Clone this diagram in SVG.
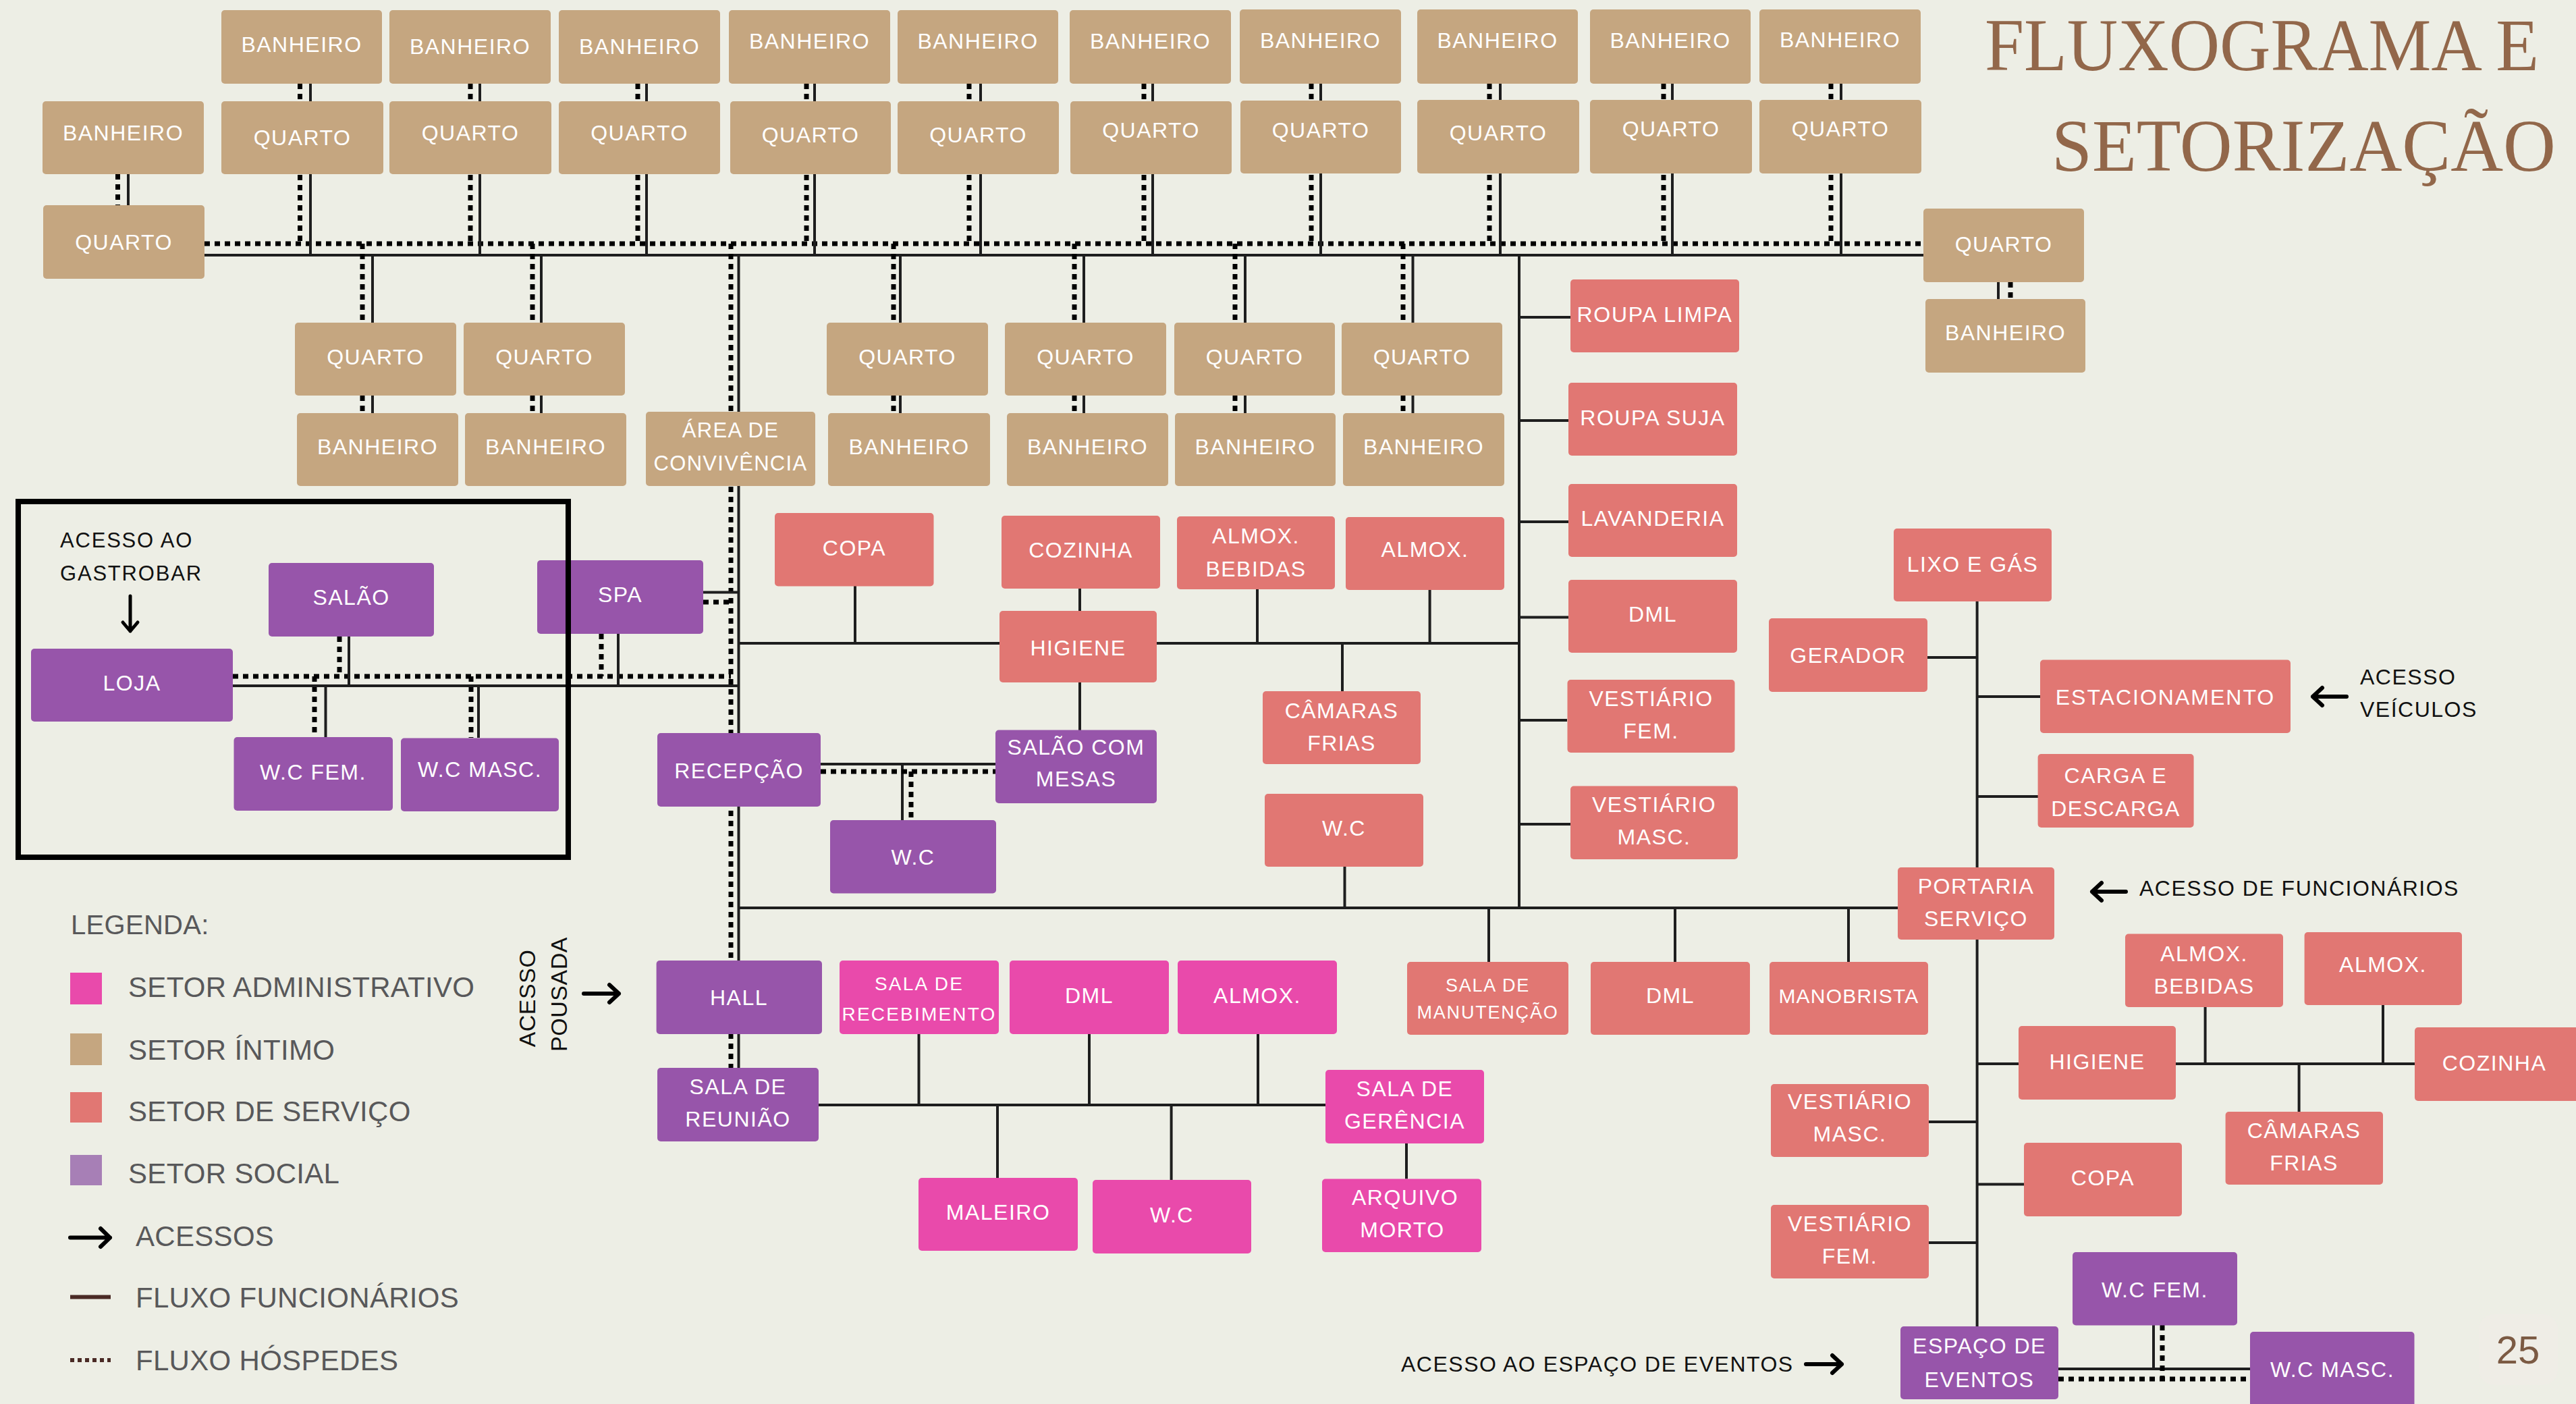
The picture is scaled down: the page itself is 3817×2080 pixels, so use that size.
<svg xmlns="http://www.w3.org/2000/svg" width="3817" height="2080" viewBox="0 0 3817 2080">
<style>
.bg{fill:#EDEEE5}
.t{fill:#C5A680}
.s{fill:#E17773}
.p{fill:#9755AA}
.a{fill:#E94AAB}
text{font-family:"Liberation Sans",Arial,sans-serif}
.lb{fill:#FFFFFF;font-size:32px;letter-spacing:1.5px;text-anchor:middle}
.sm{font-size:27px;letter-spacing:1.8px}
.sm2{font-size:28px;letter-spacing:2.2px}
.l{stroke:#1E1E1E;stroke-width:4;fill:none}
.d{stroke:#000;stroke-width:7;stroke-dasharray:8 7;fill:none}
.ar{stroke:#000;stroke-width:6;fill:none;stroke-linecap:round;stroke-linejoin:round}
.bk{fill:#111;font-size:31px;letter-spacing:1.8px}
.lg{fill:#58585A;font-size:42px;letter-spacing:0.3px}
.ttl{fill:#92674A;font-family:"Liberation Serif","Times New Roman",serif;font-size:110px}
</style>
<rect class="bg" x="0" y="0" width="3817" height="2080"/>

<g id="connectors">
  <!-- top horizontal lines -->
  <path class="d" d="M303 361H2851"/>
  <path class="l" d="M303 378H2851"/>
  <!-- top columns -->
  <path class="d" d="M444.5 124V361M697 124V361M945 124V361M1195 124V361M1436 124V361M1695 124V361M1943 124V361M2207 124V361M2465 124V361M2713 124V361"/>
  <path class="l" d="M460 124V378M711 124V378M958 124V378M1207 124V378M1453 124V378M1708 124V378M1957 124V378M2223 124V378M2478 124V378M2728 124V378"/>
  <path class="d" d="M174.5 258V304"/>
  <path class="l" d="M190 258V304"/>
  <!-- lower columns -->
  <path class="d" d="M537 361V612M789 361V612M1324 361V612M1592 361V612M1830 361V612M2079 361V612"/>
  <path class="l" d="M552 378V612M802 378V612M1334 378V612M1606 378V612M1845 378V612M2093.5 378V612"/>
  <!-- main guest trunk -->
  <path class="d" d="M1083 361V1582"/>
  <path class="l" d="M1094.5 378V1582"/>
  <!-- right quarto/banheiro -->
  <path class="d" d="M2979 418V443"/>
  <path class="l" d="M2961 418V443"/>
  <!-- gastrobar -->
  <path class="d" d="M345 1002H1083M503 943V1002M466 1002V1092M698 1002V1093M891 939V1002M1042 892H1083"/>
  <path class="l" d="M345 1016H1094.5M517 943V1016M482.5 1016V1092M709 1016V1093M916 939V1016M1042 877.5H1094.5"/>
  <!-- kitchen / service block -->
  <path class="l" d="M1094.5 953H2251M1267 868V953M1600 872V1082M1863 873V953M2118.6 874V953M1989 953V1024M1992.5 1284V1345M2251 378V1345"/>
  <path class="l" d="M2251 470H2327M2251 623H2324M2251 773H2324M2251 914.5H2324M2251 1067H2322M2251 1221H2327"/>
  <path class="l" d="M1094.5 1345H2812M2206 1345V1425M2482 1345V1425M2739 1345V1425"/>
  <!-- recepcao -->
  <path class="l" d="M1216 1132H1475M1337 1132V1215"/>
  <path class="d" d="M1216 1143H1475M1350 1143V1215"/>
  <!-- admin -->
  <path class="l" d="M1213 1637H1964M1361.5 1532V1637M1614 1532V1637M1864 1532V1637M1478 1637V1745M1735.6 1637V1748M2084 1694V1746.5"/>
  <!-- right service trunk -->
  <path class="l" d="M2929.6 891V1965M2856 974H2929.6M2929.6 1032H3023M2929.6 1180H3020M2929.6 1576H3578M3267.6 1492V1576M3531 1489V1576M3406.6 1576V1647M2858 1662H2929.6M2929.6 1754.6H2999M2858 1841H2929.6"/>
  <!-- eventos -->
  <path class="l" d="M3050 2028H3334M3191 1963V2028"/>
  <path class="d" d="M3050 2043H3334M3204 1963V2043"/>
</g>

<!-- top row banheiros -->
<g id="banheiro-top-1"><rect class="t" x="328" y="15" width="238" height="109" rx="5"/><text class="lb" x="447" y="77">BANHEIRO</text></g>
<g id="banheiro-top-2"><rect class="t" x="577" y="15" width="239" height="109" rx="5"/><text class="lb" x="696.5" y="80">BANHEIRO</text></g>
<g id="banheiro-top-3"><rect class="t" x="828" y="15" width="239" height="109" rx="5"/><text class="lb" x="947.5" y="80">BANHEIRO</text></g>
<g id="banheiro-top-4"><rect class="t" x="1080" y="15" width="239" height="109" rx="5"/><text class="lb" x="1199.5" y="72">BANHEIRO</text></g>
<g id="banheiro-top-5"><rect class="t" x="1330" y="15" width="238" height="109" rx="5"/><text class="lb" x="1449" y="72">BANHEIRO</text></g>
<g id="banheiro-top-6"><rect class="t" x="1585" y="15" width="239" height="109" rx="5"/><text class="lb" x="1704.5" y="72">BANHEIRO</text></g>
<g id="banheiro-top-7"><rect class="t" x="1837" y="14" width="239" height="110" rx="5"/><text class="lb" x="1956.5" y="71">BANHEIRO</text></g>
<g id="banheiro-top-8"><rect class="t" x="2100" y="14" width="238" height="110" rx="5"/><text class="lb" x="2219" y="71">BANHEIRO</text></g>
<g id="banheiro-top-9"><rect class="t" x="2356" y="14" width="238" height="110" rx="5"/><text class="lb" x="2475" y="71">BANHEIRO</text></g>
<g id="banheiro-top-10"><rect class="t" x="2607" y="14" width="239" height="110" rx="5"/><text class="lb" x="2726.5" y="70">BANHEIRO</text></g>

<!-- second row -->
<g id="banheiro-left"><rect class="t" x="63" y="150" width="239" height="108" rx="5"/><text class="lb" x="182.5" y="208">BANHEIRO</text></g>
<g id="quarto-top-1"><rect class="t" x="328" y="150" width="240" height="108" rx="5"/><text class="lb" x="448" y="215">QUARTO</text></g>
<g id="quarto-top-2"><rect class="t" x="577" y="150" width="240" height="108" rx="5"/><text class="lb" x="697" y="208">QUARTO</text></g>
<g id="quarto-top-3"><rect class="t" x="828" y="150" width="239" height="108" rx="5"/><text class="lb" x="947.5" y="208">QUARTO</text></g>
<g id="quarto-top-4"><rect class="t" x="1082" y="150" width="238" height="108" rx="5"/><text class="lb" x="1201" y="211">QUARTO</text></g>
<g id="quarto-top-5"><rect class="t" x="1330" y="150" width="239" height="108" rx="5"/><text class="lb" x="1449.5" y="211">QUARTO</text></g>
<g id="quarto-top-6"><rect class="t" x="1586" y="150" width="239" height="108" rx="5"/><text class="lb" x="1705.5" y="204">QUARTO</text></g>
<g id="quarto-top-7"><rect class="t" x="1838" y="149" width="238" height="108" rx="5"/><text class="lb" x="1957" y="204">QUARTO</text></g>
<g id="quarto-top-8"><rect class="t" x="2100" y="148" width="240" height="109" rx="5"/><text class="lb" x="2220" y="208">QUARTO</text></g>
<g id="quarto-top-9"><rect class="t" x="2356" y="148" width="240" height="109" rx="5"/><text class="lb" x="2476" y="202">QUARTO</text></g>
<g id="quarto-top-10"><rect class="t" x="2607" y="148" width="240" height="109" rx="5"/><text class="lb" x="2727" y="202">QUARTO</text></g>
<g id="quarto-left"><rect class="t" x="64" y="304" width="239" height="109" rx="5"/><text class="lb" x="183.5" y="370">QUARTO</text></g>

<!-- lower quartos -->
<g id="quarto-low-1"><rect class="t" x="437" y="478" width="239" height="108" rx="5"/><text class="lb" x="556.5" y="540">QUARTO</text></g>
<g id="quarto-low-2"><rect class="t" x="687" y="478" width="239" height="108" rx="5"/><text class="lb" x="806.5" y="540">QUARTO</text></g>
<g id="quarto-low-3"><rect class="t" x="1225" y="478" width="239" height="108" rx="5"/><text class="lb" x="1344.5" y="540">QUARTO</text></g>
<g id="quarto-low-4"><rect class="t" x="1489" y="478" width="239" height="108" rx="5"/><text class="lb" x="1608.5" y="540">QUARTO</text></g>
<g id="quarto-low-5"><rect class="t" x="1740" y="478" width="238" height="108" rx="5"/><text class="lb" x="1859" y="540">QUARTO</text></g>
<g id="quarto-low-6"><rect class="t" x="1988" y="478" width="238" height="108" rx="5"/><text class="lb" x="2107" y="540">QUARTO</text></g>
<g id="banheiro-low-1"><rect class="t" x="440" y="612" width="239" height="108" rx="5"/><text class="lb" x="559.5" y="673">BANHEIRO</text></g>
<g id="banheiro-low-2"><rect class="t" x="689" y="612" width="239" height="108" rx="5"/><text class="lb" x="808.5" y="673">BANHEIRO</text></g>
<g id="area-convivencia"><rect class="t" x="957" y="610" width="251" height="110" rx="5"/><text class="lb" x="1082.5" y="648" style="font-size:31px;letter-spacing:1.3px"><tspan x="1082.5">ÁREA DE</tspan><tspan x="1082.5" dy="49">CONVIVÊNCIA</tspan></text></g>
<g id="banheiro-low-3"><rect class="t" x="1227" y="612" width="240" height="108" rx="5"/><text class="lb" x="1347" y="673">BANHEIRO</text></g>
<g id="banheiro-low-4"><rect class="t" x="1492" y="612" width="239" height="108" rx="5"/><text class="lb" x="1611.5" y="673">BANHEIRO</text></g>
<g id="banheiro-low-5"><rect class="t" x="1741" y="612" width="238" height="108" rx="5"/><text class="lb" x="1860" y="673">BANHEIRO</text></g>
<g id="banheiro-low-6"><rect class="t" x="1990" y="612" width="239" height="108" rx="5"/><text class="lb" x="2109.5" y="673">BANHEIRO</text></g>

<g id="quarto-right"><rect class="t" x="2850" y="309" width="238" height="109" rx="5"/><text class="lb" x="2969" y="373">QUARTO</text></g>
<g id="banheiro-right"><rect class="t" x="2853" y="443" width="237" height="109" rx="5"/><text class="lb" x="2971.5" y="504">BANHEIRO</text></g>

<!-- gastrobar -->
<g id="salao"><rect class="p" x="398" y="834" width="245" height="109" rx="5"/><text class="lb" x="520.5" y="896">SALÃO</text></g>
<g id="spa"><rect class="p" x="796" y="830" width="246" height="109" rx="5"/><text class="lb" x="919" y="892">SPA</text></g>
<g id="loja"><rect class="p" x="46" y="961" width="299" height="108" rx="5"/><text class="lb" x="195.5" y="1023">LOJA</text></g>
<g id="wc-fem-gastrobar"><rect class="p" x="346.5" y="1092" width="235.5" height="109" rx="5"/><text class="lb" x="464" y="1155">W.C FEM.</text></g>
<g id="wc-masc-gastrobar"><rect class="p" x="594" y="1093.5" width="234" height="108.5" rx="5"/><text class="lb" x="711" y="1151">W.C MASC.</text></g>

<!-- kitchen / social block -->
<g id="copa-1"><rect class="s" x="1148" y="760" width="235.5" height="108.5" rx="5"/><text class="lb" x="1266" y="823">COPA</text></g>
<g id="cozinha-1"><rect class="s" x="1484" y="764" width="235" height="108" rx="5"/><text class="lb" x="1601.5" y="826">COZINHA</text></g>
<g id="almox-bebidas-1"><rect class="s" x="1744" y="765" width="234" height="108" rx="5"/><text class="lb" x="1861" y="805"><tspan x="1861">ALMOX.</tspan><tspan x="1861" dy="49">BEBIDAS</tspan></text></g>
<g id="almox-1"><rect class="s" x="1994" y="766" width="235" height="108" rx="5"/><text class="lb" x="2111.5" y="825">ALMOX.</text></g>
<g id="higiene-1"><rect class="s" x="1481" y="905" width="233" height="106" rx="5"/><text class="lb" x="1597.5" y="971">HIGIENE</text></g>
<g id="salao-com-mesas"><rect class="p" x="1475" y="1081.5" width="239" height="108.5" rx="5"/><text class="lb" x="1594.5" y="1118"><tspan x="1594.5">SALÃO COM</tspan><tspan x="1594.5" dy="47">MESAS</tspan></text></g>
<g id="recepcao"><rect class="p" x="974" y="1086" width="242" height="109" rx="5"/><text class="lb" x="1095" y="1153">RECEPÇÃO</text></g>
<g id="wc-social"><rect class="p" x="1230" y="1215" width="246" height="108.5" rx="5"/><text class="lb" x="1353" y="1281">W.C</text></g>
<g id="camaras-frias-1"><rect class="s" x="1871" y="1024" width="234" height="108" rx="5"/><text class="lb" x="1988" y="1064"><tspan x="1988">CÂMARAS</tspan><tspan x="1988" dy="48">FRIAS</tspan></text></g>
<g id="wc-servico"><rect class="s" x="1874" y="1176" width="235" height="108" rx="5"/><text class="lb" x="1991.5" y="1238">W.C</text></g>

<!-- service column -->
<g id="roupa-limpa"><rect class="s" x="2327" y="414" width="250" height="108" rx="5"/><text class="lb" x="2452" y="477" style="letter-spacing:1.7px">ROUPA LIMPA</text></g>
<g id="roupa-suja"><rect class="s" x="2324" y="567" width="250" height="108" rx="5"/><text class="lb" x="2449" y="630">ROUPA SUJA</text></g>
<g id="lavanderia"><rect class="s" x="2324" y="717" width="250" height="108" rx="5"/><text class="lb" x="2449" y="779">LAVANDERIA</text></g>
<g id="dml-1"><rect class="s" x="2324" y="859" width="250" height="108" rx="5"/><text class="lb" x="2449" y="921">DML</text></g>
<g id="vestiario-fem-1"><rect class="s" x="2322.5" y="1007" width="248" height="108" rx="5"/><text class="lb" x="2446.5" y="1046"><tspan x="2446.5">VESTIÁRIO</tspan><tspan x="2446.5" dy="48">FEM.</tspan></text></g>
<g id="vestiario-masc-1"><rect class="s" x="2327" y="1164.5" width="248" height="108.5" rx="5"/><text class="lb" x="2451" y="1203"><tspan x="2451">VESTIÁRIO</tspan><tspan x="2451" dy="48">MASC.</tspan></text></g>
<g id="gerador"><rect class="s" x="2621" y="916" width="235" height="109" rx="5"/><text class="lb" x="2738.5" y="982">GERADOR</text></g>
<g id="lixo-e-gas"><rect class="s" x="2806" y="783" width="234" height="108" rx="5"/><text class="lb" x="2923" y="847">LIXO E GÁS</text></g>
<g id="estacionamento"><rect class="s" x="3023" y="977.5" width="371" height="108.5" rx="5"/><text class="lb" x="3208.5" y="1044" style="letter-spacing:2px">ESTACIONAMENTO</text></g>
<g id="carga-descarga"><rect class="s" x="3019.6" y="1117" width="231" height="109" rx="5"/><text class="lb" x="3135" y="1160"><tspan x="3135">CARGA E</tspan><tspan x="3135" dy="49">DESCARGA</tspan></text></g>
<g id="portaria-servico"><rect class="s" x="2812" y="1285" width="232" height="107" rx="5"/><text class="lb" x="2928" y="1324"><tspan x="2928">PORTARIA</tspan><tspan x="2928" dy="48">SERVIÇO</tspan></text></g>

<!-- admin block -->
<g id="hall"><rect class="p" x="972.6" y="1423" width="245.4" height="109" rx="5"/><text class="lb" x="1095" y="1489">HALL</text></g>
<g id="sala-recebimento"><rect class="a" x="1244" y="1423" width="236" height="109" rx="5"/><text class="lb sm2" x="1362" y="1467"><tspan x="1362">SALA DE</tspan><tspan x="1362" dy="45">RECEBIMENTO</tspan></text></g>
<g id="dml-admin"><rect class="a" x="1496" y="1423" width="236" height="109" rx="5"/><text class="lb" x="1614" y="1486">DML</text></g>
<g id="almox-admin"><rect class="a" x="1745" y="1423" width="236" height="109" rx="5"/><text class="lb" x="1863" y="1486">ALMOX.</text></g>
<g id="sala-reuniao"><rect class="p" x="974" y="1582" width="239" height="109" rx="5"/><text class="lb" x="1093.5" y="1621"><tspan x="1093.5">SALA DE</tspan><tspan x="1093.5" dy="48">REUNIÃO</tspan></text></g>
<g id="maleiro"><rect class="a" x="1361" y="1745" width="236" height="108" rx="5"/><text class="lb" x="1479" y="1807">MALEIRO</text></g>
<g id="wc-admin"><rect class="a" x="1619" y="1748" width="235" height="109" rx="5"/><text class="lb" x="1736.5" y="1811">W.C</text></g>
<g id="sala-gerencia"><rect class="a" x="1964" y="1585" width="235" height="109" rx="5"/><text class="lb" x="2081.5" y="1624"><tspan x="2081.5">SALA DE</tspan><tspan x="2081.5" dy="48">GERÊNCIA</tspan></text></g>
<g id="arquivo-morto"><rect class="a" x="1959" y="1746.5" width="236" height="108.5" rx="5"/><text class="lb" x="2080" y="1785"><tspan x="2082">ARQUIVO</tspan><tspan x="2078" dy="48">MORTO</tspan></text></g>
<g id="sala-manutencao"><rect class="s" x="2085" y="1425" width="239" height="108" rx="5"/><text class="lb sm" x="2204.5" y="1469"><tspan x="2204.5">SALA DE</tspan><tspan x="2204.5" dy="40">MANUTENÇÃO</tspan></text></g>
<g id="dml-2"><rect class="s" x="2357" y="1425" width="236" height="108" rx="5"/><text class="lb" x="2475" y="1486">DML</text></g>
<g id="manobrista"><rect class="s" x="2622" y="1425" width="235" height="108" rx="5"/><text class="lb" x="2739.5" y="1486" style="font-size:30px;letter-spacing:1.2px">MANOBRISTA</text></g>

<!-- right lower block -->
<g id="vestiario-masc-2"><rect class="s" x="2624" y="1606" width="234" height="108" rx="5"/><text class="lb" x="2741" y="1643"><tspan x="2741">VESTIÁRIO</tspan><tspan x="2741" dy="48">MASC.</tspan></text></g>
<g id="vestiario-fem-2"><rect class="s" x="2624" y="1785" width="234" height="109" rx="5"/><text class="lb" x="2741" y="1824"><tspan x="2741">VESTIÁRIO</tspan><tspan x="2741" dy="48">FEM.</tspan></text></g>
<g id="almox-bebidas-2"><rect class="s" x="3149" y="1383.6" width="234" height="108.4" rx="5"/><text class="lb" x="3266" y="1424"><tspan x="3266">ALMOX.</tspan><tspan x="3266" dy="48">BEBIDAS</tspan></text></g>
<g id="almox-2"><rect class="s" x="3414.6" y="1381" width="233.4" height="108" rx="5"/><text class="lb" x="3531" y="1440">ALMOX.</text></g>
<g id="higiene-2"><rect class="s" x="2991" y="1520" width="233" height="109" rx="5"/><text class="lb" x="3107.5" y="1584">HIGIENE</text></g>
<g id="cozinha-2"><rect class="s" x="3578" y="1522" width="250" height="109" rx="5"/><text class="lb" x="3696" y="1586">COZINHA</text></g>
<g id="camaras-frias-2"><rect class="s" x="3297.6" y="1647" width="233.4" height="108" rx="5"/><text class="lb" x="3414" y="1686"><tspan x="3414">CÂMARAS</tspan><tspan x="3414" dy="48">FRIAS</tspan></text></g>
<g id="copa-2"><rect class="s" x="2999" y="1693" width="234" height="109" rx="5"/><text class="lb" x="3116" y="1756">COPA</text></g>
<g id="wc-fem-eventos"><rect class="p" x="3071" y="1855" width="244" height="108.5" rx="5"/><text class="lb" x="3193" y="1922">W.C FEM.</text></g>
<g id="wc-masc-eventos"><rect class="p" x="3334" y="1973" width="243.5" height="120" rx="5"/><text class="lb" x="3456" y="2040">W.C MASC.</text></g>
<g id="espaco-eventos"><rect class="p" x="2816" y="1965" width="234" height="108" rx="5"/><text class="lb" x="2933" y="2005"><tspan x="2933">ESPAÇO DE</tspan><tspan x="2933" dy="50">EVENTOS</tspan></text></g>

<!-- gastrobar frame -->
<rect x="27" y="743" width="815" height="527" fill="none" stroke="#000" stroke-width="8"/>

<!-- access labels and arrows -->
<g id="acessos">
  <text class="bk" x="89" y="811">ACESSO AO</text>
  <text class="bk" x="89" y="860">GASTROBAR</text>
  <path class="ar" style="stroke-width:5" d="M193 883V935M182 922L193 935L204 922"/>
  <text class="bk" style="font-size:34px;letter-spacing:0.5px;text-anchor:middle" transform="translate(793 1479) rotate(-90)">ACESSO</text>
  <text class="bk" style="font-size:34px;letter-spacing:0.5px;text-anchor:middle" transform="translate(840 1473) rotate(-90)">POUSADA</text>
  <path class="ar" d="M865 1472H917M903 1459L917 1472L903 1485"/>
  <path class="ar" d="M3477 1032H3427M3441 1019L3427 1032L3441 1045"/>
  <text class="bk" style="font-size:32px;letter-spacing:1.5px" x="3497" y="1014">ACESSO</text>
  <text class="bk" style="font-size:32px;letter-spacing:1.5px" x="3497" y="1062">VEÍCULOS</text>
  <path class="ar" d="M3150 1321H3100M3114 1308L3100 1321L3114 1334"/>
  <text class="bk" style="font-size:32px;letter-spacing:1.5px" x="3170" y="1327">ACESSO DE FUNCIONÁRIOS</text>
  <text class="bk" style="font-size:32px;letter-spacing:1.5px" x="2076" y="2032">ACESSO AO ESPAÇO DE EVENTOS</text>
  <path class="ar" d="M2676 2021H2729M2715 2008L2729 2021L2715 2034"/>
</g>

<!-- title -->
<g id="title">
  <text class="ttl" x="2941" y="104" textLength="821" lengthAdjust="spacingAndGlyphs">FLUXOGRAMA E</text>
  <text class="ttl" x="3040" y="253" textLength="747" lengthAdjust="spacingAndGlyphs">SETORIZAÇÃO</text>
</g>

<!-- legend -->
<g id="legenda">
  <text class="lg" style="font-size:40px" x="105" y="1384">LEGENDA:</text>
  <rect x="104" y="1441" width="47" height="47" fill="#E94AAB"/>
  <text class="lg" x="190" y="1477">SETOR ADMINISTRATIVO</text>
  <rect x="104" y="1531" width="47" height="47" fill="#C5A680"/>
  <text class="lg" x="190" y="1570">SETOR ÍNTIMO</text>
  <rect x="104" y="1618" width="47" height="45" fill="#E17773"/>
  <text class="lg" x="190" y="1661">SETOR DE SERVIÇO</text>
  <rect x="104" y="1711" width="47" height="45" fill="#A77FB6"/>
  <text class="lg" x="190" y="1753">SETOR SOCIAL</text>
  <path class="ar" d="M104 1833.6H163M149 1820L163 1833.6L149 1847"/>
  <text class="lg" x="201" y="1846">ACESSOS</text>
  <path d="M104 1921.5H164" stroke="#4A2A25" stroke-width="6" fill="none"/>
  <text class="lg" x="201" y="1937">FLUXO FUNCIONÁRIOS</text>
  <path d="M104 2015H164" stroke="#4A2A25" stroke-width="6" stroke-dasharray="6 5" fill="none"/>
  <text class="lg" x="201" y="2030">FLUXO HÓSPEDES</text>
</g>

<!-- page number -->
<g id="page-number">
  <rect x="3673" y="1947" width="117" height="105" rx="22" fill="#EFEDE6"/>
  <text x="3731" y="2020" style="font-size:58px;fill:#7B5A43;text-anchor:middle">25</text>
</g>
</svg>
